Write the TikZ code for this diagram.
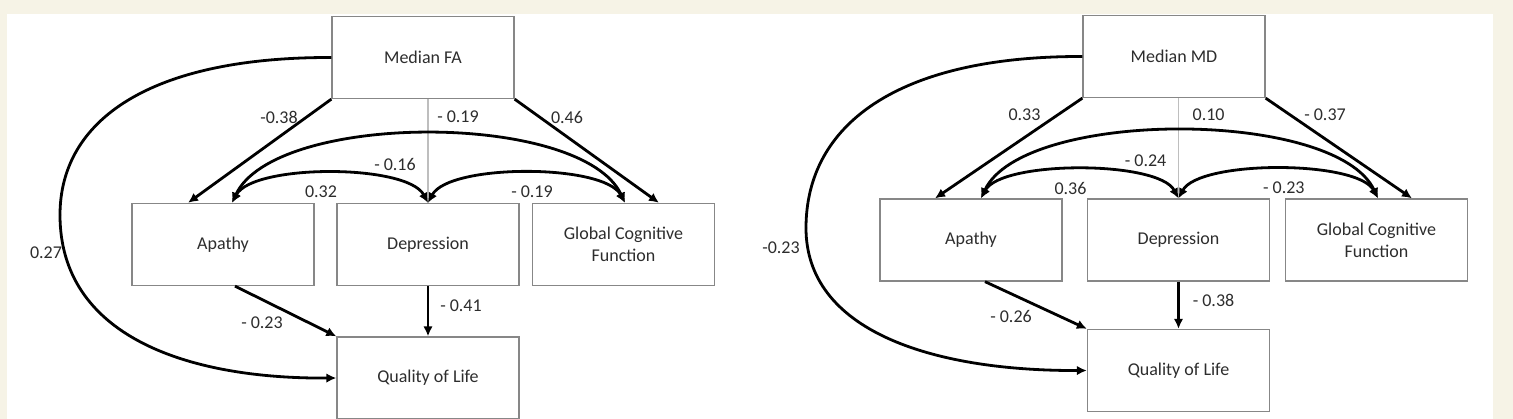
\documentclass[tikz,border=0pt]{standalone}
\usepackage{fontspec}
\setmainfont{Carlito}
\usetikzlibrary{arrows.meta}
\definecolor{paper}{RGB}{246,243,230}
\definecolor{boxline}{RGB}{135,135,135}
\definecolor{txt}{RGB}{45,45,45}
\definecolor{thinpath}{RGB}{190,190,190}
\begin{document}
\begin{tikzpicture}[x=1pt,y=-1pt,
  var/.style={draw=boxline,line width=1.3pt,fill=white,minimum width=182pt,minimum height=82pt,
    inner sep=0pt,align=center,text=txt,font=\fontsize{18}{22}\selectfont},
  coef/.style={text=txt,inner sep=0pt,font=\fontsize{18}{22}\selectfont},
  path/.style={line width=2.8pt,-{Latex[length=10pt,width=9.5pt]}},
  cov/.style={line width=2.8pt,{Latex[length=10pt,width=9.5pt]}-{Latex[length=10pt,width=9.5pt]}},
  weak/.style={draw=thinpath,line width=1.2pt}]
\useasboundingbox (0,0) rectangle (1513,419);
\fill[paper] (0,0) rectangle (1513,419);
\fill[white] (7,14) rectangle (1493,419);

% ---------- model with median FA ----------
\node[var] (medFA) at (423,57.5) {Median FA};
\node[var] (apaL) at (223,244.5) {Apathy};
\node[var] (depL) at (428,244.5) {Depression};
\node[var] (gcfL) at (623.5,244.5) {Global Cognitive\\Function};
\node[var] (qolL) at (428,378) {Quality of Life};
\coordinate (bendL) at (60,215);

\draw[weak] (depL.north) -- (depL.north |- medFA.south);
\draw[path] (medFA.south west) -- ([xshift=-35pt]apaL.north);
\draw[path] (medFA.south east) -- ([xshift=35.5pt]gcfL.north);
\draw[cov] ([xshift=9pt]apaL.north) to[out=65,in=115,looseness=0.66] ([xshift=1.5pt]gcfL.north);
\draw[cov] ([xshift=9pt]apaL.north) to[out=62,in=118,looseness=0.58] (depL.north);
\draw[cov] (depL.north) to[out=62,in=118,looseness=0.58] ([xshift=1.5pt]gcfL.north);
\draw[path] ([xshift=12pt]apaL.south) -- (qolL.north west);
\draw[path] (depL.south) -- (qolL.north);
\draw[line width=2.8pt] (medFA.west) .. controls (150,57) and (60,120) .. (bendL);
\draw[path] (bendL) .. controls (60,335) and (185,379) .. (qolL.west);

\node[coef] (cA1) at (279,117) {-0.38};
\node[coef] (cA2) at (458,117) {- 0.19};
\node[coef] (cA3) at (567,117) {0.46};
\node[coef] (cA4) at (395,164) {- 0.16};
\node[coef] (cA5) at (321,192) {0.32};
\node[coef] (cA6) at (532,192) {- 0.19};
\node[coef] (cA7) at (46,253) {0.27};
\node[coef] (cA8) at (262,323) {- 0.23};
\node[coef] (cA9) at (461,306) {- 0.41};

% ---------- model with median MD ----------
\node[var] (medMD) at (1174,56.5) {Median MD};
\node[var] (apaR) at (971,240) {Apathy};
\node[var] (depR) at (1178.5,240) {Depression};
\node[var] (gcfR) at (1376.5,240) {Global Cognitive\\Function};
\node[var] (qolR) at (1178.5,370.5) {Quality of Life};
\coordinate (bendR) at (806,228);

\draw[weak] (depR.north) -- (depR.north |- medMD.south);
\draw[path] (medMD.south west) -- ([xshift=-36pt]apaR.north);
\draw[path] (medMD.south east) -- ([xshift=35.5pt]gcfR.north);
\draw[cov] ([xshift=10pt]apaR.north) to[out=65,in=115,looseness=0.64] ([xshift=1.5pt]gcfR.north);
\draw[cov] ([xshift=10pt]apaR.north) to[out=62,in=118,looseness=0.56] (depR.north);
\draw[cov] (depR.north) to[out=62,in=118,looseness=0.56] ([xshift=1.5pt]gcfR.north);
\draw[path] ([xshift=14pt]apaR.south) -- (qolR.north west);
\draw[path] (depR.south) -- (qolR.north);
\draw[line width=2.8pt] (medMD.west) .. controls (897,56) and (806,125) .. (bendR);
\draw[path] (bendR) .. controls (806,330) and (930,371) .. (qolR.west);

\node[coef] (cB1) at (1024.5,115) {0.33};
\node[coef] (cB2) at (1208.6,115) {0.10};
\node[coef] (cB3) at (1325,115) {- 0.37};
\node[coef] (cB4) at (1145.6,161) {- 0.24};
\node[coef] (cB5) at (1070.5,188) {0.36};
\node[coef] (cB6) at (1283.8,188) {- 0.23};
\node[coef] (cB7) at (781,248) {-0.23};
\node[coef] (cB8) at (1011,316) {- 0.26};
\node[coef] (cB9) at (1213.5,300) {- 0.38};
\end{tikzpicture}
\end{document}
